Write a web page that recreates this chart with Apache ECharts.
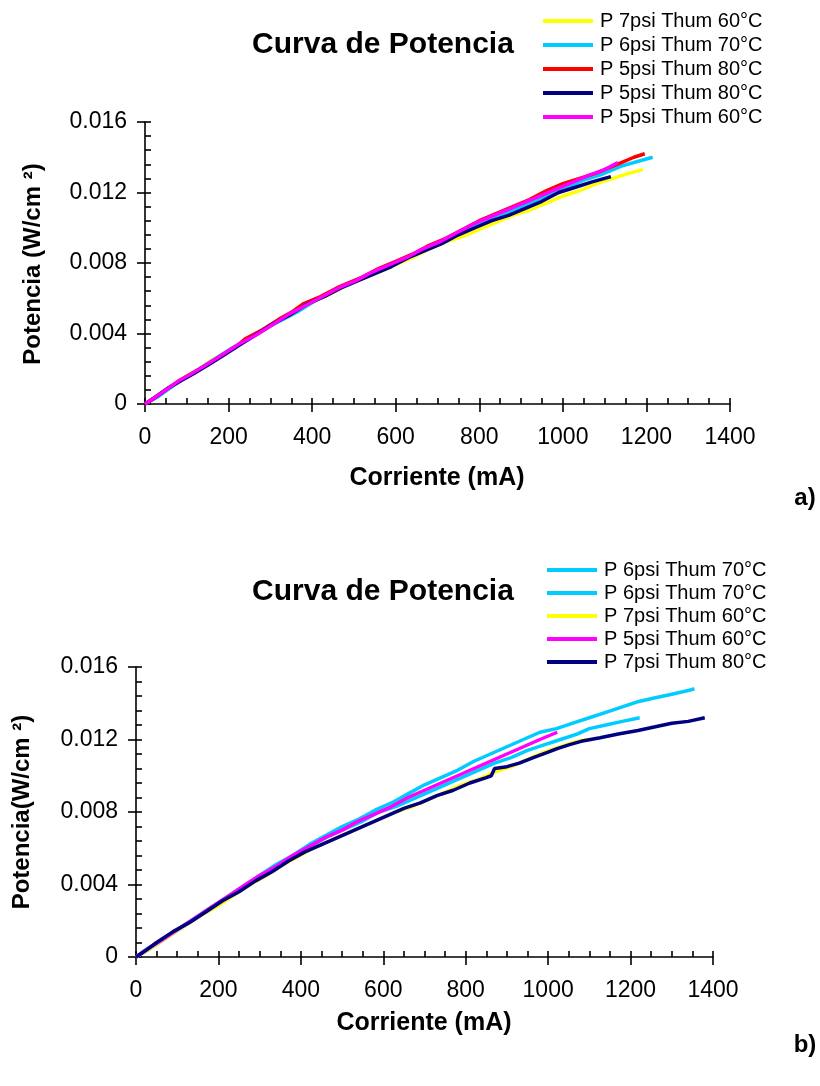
<!DOCTYPE html>
<html><head><meta charset="utf-8">
<script src="https://cdn.jsdelivr.net/npm/echarts@6/dist/echarts.min.js"></script>
<style>html,body{margin:0;padding:0;background:#fff}#c{width:820px;height:1086px}</style>
</head><body><div id="c"></div>
<script>
// ---------- DATA (current mA, power W/cm2) ----------
const xTicks = [0, 200, 400, 600, 800, 1000, 1200, 1400];
const yTicks = [0, 0.004, 0.008, 0.012, 0.016];

const legendA = ['P 7psi Thum 60°C', 'P 6psi Thum 70°C', 'P 5psi Thum 80°C', 'P 5psi Thum 80°C', 'P 5psi Thum 60°C'];
const legendB = ['P 6psi Thum 70°C', 'P 6psi Thum 70°C', 'P 7psi Thum 60°C', 'P 5psi Thum 60°C', 'P 7psi Thum 80°C'];

// chart a)
const aYellow = [[0,0],[20,0.0003],[45,0.0007],[70,0.0011],[100,0.0016],[130,0.0020],[160,0.0025],[200,0.0030],[240,0.0036],[280,0.0042],[320,0.0047],[360,0.0052],[400,0.0058],[440,0.0062],[480,0.0067],[520,0.0071],[560,0.0075],[600,0.0079],[640,0.0083],[680,0.0088],[720,0.0092],[760,0.0095],[800,0.0099],[840,0.0103],[880,0.0107],[920,0.0110],[960,0.0114],[1000,0.0118],[1040,0.0121],[1080,0.0125],[1120,0.0128],[1160,0.0131],[1191,0.0133]];
const aCyan = [[0,0],[30,0.0004],[60,0.0009],[90,0.0014],[130,0.0020],[170,0.0026],[210,0.0032],[250,0.0037],[290,0.0043],[330,0.0048],[370,0.0053],[410,0.0059],[450,0.0064],[490,0.0068],[530,0.0073],[570,0.0077],[610,0.0081],[650,0.0085],[690,0.0090],[730,0.0094],[770,0.0099],[810,0.0103],[850,0.0107],[890,0.0111],[930,0.0115],[970,0.0119],[1010,0.0123],[1050,0.0127],[1090,0.0130],[1120,0.0133],[1140,0.0135],[1170,0.0137],[1200,0.0139],[1215,0.0140]];
const aRed = [[0,0],[20,0.0003],[50,0.0008],[80,0.0013],[110,0.0017],[140,0.0021],[180,0.0027],[220,0.0033],[240,0.0037],[280,0.0042],[320,0.0048],[350,0.0052],[380,0.0057],[420,0.0061],[460,0.0066],[490,0.0069],[520,0.0072],[560,0.0077],[600,0.0081],[640,0.0085],[680,0.0090],[720,0.0094],[760,0.0099],[800,0.0104],[840,0.0108],[880,0.0112],[920,0.0116],[960,0.0121],[1000,0.0125],[1040,0.0128],[1080,0.0131],[1110,0.0134],[1140,0.0137],[1170,0.0140],[1196,0.0142]];
const aNavy = [[0,0],[25,0.0004],[55,0.0009],[85,0.0013],[115,0.0017],[150,0.0022],[190,0.0028],[230,0.0034],[270,0.0040],[310,0.0046],[350,0.0051],[390,0.0057],[430,0.0061],[470,0.0066],[510,0.0070],[550,0.0074],[590,0.0078],[630,0.0083],[670,0.0087],[710,0.0091],[750,0.0096],[790,0.0100],[830,0.0104],[870,0.0107],[910,0.0111],[950,0.0115],[990,0.0120],[1030,0.0123],[1070,0.0126],[1115,0.0129]];
const aMagenta = [[0,0],[25,0.0004],[50,0.0008],[80,0.0013],[110,0.0017],[145,0.0022],[185,0.0028],[225,0.0034],[265,0.0039],[305,0.0045],[345,0.0051],[385,0.0056],[425,0.0061],[465,0.0066],[505,0.0070],[545,0.0075],[585,0.0079],[625,0.0083],[665,0.0088],[705,0.0092],[745,0.0097],[785,0.0102],[825,0.0106],[865,0.0110],[905,0.0114],[945,0.0118],[985,0.0122],[1025,0.0126],[1065,0.0130],[1100,0.0133],[1132,0.0137]];

// chart b)
const bCyan1 = [[0,0],[30,0.0005],[60,0.0009],[100,0.0015],[140,0.0021],[180,0.0027],[220,0.0033],[260,0.0039],[300,0.0045],[340,0.0051],[380,0.0056],[420,0.0062],[460,0.0067],[500,0.0072],[540,0.0076],[580,0.0081],[620,0.0085],[660,0.0090],[700,0.0095],[740,0.0099],[780,0.0103],[820,0.0108],[860,0.0112],[900,0.0116],[940,0.0120],[980,0.0124],[1020,0.0126],[1060,0.0129],[1100,0.0132],[1140,0.0135],[1180,0.0138],[1220,0.0141],[1260,0.0143],[1300,0.0145],[1340,0.0147],[1355,0.0148]];
const bCyan2 = [[0,0],[30,0.0004],[70,0.0010],[110,0.0016],[150,0.0022],[190,0.0028],[230,0.0034],[270,0.0040],[310,0.0046],[350,0.0051],[390,0.0057],[430,0.0062],[470,0.0067],[510,0.0071],[550,0.0075],[590,0.0080],[630,0.0083],[670,0.0087],[710,0.0091],[750,0.0095],[790,0.0099],[830,0.0103],[870,0.0107],[910,0.0110],[950,0.0114],[990,0.0117],[1030,0.0120],[1070,0.0123],[1100,0.0126],[1140,0.0128],[1180,0.0130],[1222,0.0132]];
const bYellow = [[0,0],[30,0.0004],[70,0.0010],[110,0.0016],[150,0.0022],[190,0.0027],[230,0.0033],[270,0.0039],[310,0.0044],[350,0.0050],[390,0.0055],[430,0.0060],[470,0.0064],[510,0.0068],[550,0.0072],[590,0.0076],[630,0.0080],[670,0.0083],[710,0.0087],[750,0.0091],[790,0.0095],[830,0.0098],[870,0.0102],[910,0.0105],[950,0.0109],[990,0.0113],[1030,0.0116],[1070,0.0119],[1100,0.0120]];
const bMagenta = [[0,0],[25,0.0004],[60,0.0009],[100,0.0015],[140,0.0021],[180,0.0027],[220,0.0033],[260,0.0039],[300,0.0045],[340,0.0050],[380,0.0056],[420,0.0061],[460,0.0066],[500,0.0070],[540,0.0075],[580,0.0079],[620,0.0083],[660,0.0088],[700,0.0092],[740,0.0096],[780,0.0100],[820,0.0104],[860,0.0108],[900,0.0112],[940,0.0116],[980,0.0120],[1022,0.0124]];
const bNavy = [[0,0],[20,0.0003],[50,0.0008],[90,0.0014],[130,0.0019],[170,0.0025],[210,0.0031],[250,0.0036],[290,0.0042],[330,0.0047],[370,0.0053],[410,0.0058],[450,0.0062],[490,0.0066],[530,0.0070],[570,0.0074],[610,0.0078],[650,0.0082],[690,0.0085],[730,0.0089],[770,0.0092],[810,0.0096],[850,0.0099],[862,0.0100],[870,0.0104],[900,0.0105],[930,0.0107],[964,0.0110],[1000,0.0113],[1022,0.0115],[1050,0.0117],[1080,0.0119],[1126,0.0121],[1170,0.0123],[1218,0.0125],[1260,0.0127],[1300,0.0129],[1340,0.0130],[1380,0.0132]];

const colorsA = ['#FFFF00', '#00CCFF', '#FF0000', '#000080', '#FF00FF'];
const colorsB = ['#00CCFF', '#00CCFF', '#FFFF00', '#FF00FF', '#000080'];
const dataA = [aYellow, aCyan, aRed, aNavy, aMagenta];
const dataB = [bCyan1, bCyan2, bYellow, bMagenta, bNavy];

// ---------- CHART ----------
const FONT = '"Liberation Sans", Arial, sans-serif';
const chart = echarts.init(document.getElementById('c'), null, {renderer: 'canvas'});
const axisCol = '#000';
const xMax = xTicks[xTicks.length - 1], xInt = xTicks[1] - xTicks[0];
const yMax = yTicks[yTicks.length - 1], yInt = yTicks[1] - yTicks[0];

function majorX(g) {
  return {gridIndex: g, type: 'value', position: 'bottom', min: 0, max: xMax, interval: xInt,
    axisLine: {lineStyle: {color: axisCol, width: 1.6}},
    axisTick: {length: 8, lineStyle: {color: axisCol, width: 1.6}},
    axisLabel: {margin: 22, fontSize: 23, color: '#000', fontFamily: FONT, formatter: v => String(v)},
    splitLine: {show: false}};
}
function minorX(g) {
  return {gridIndex: g, type: 'value', position: 'bottom', min: 0, max: xMax, interval: xInt / 4,
    axisLine: {show: false}, axisTick: {inside: true, length: 6, lineStyle: {color: axisCol, width: 1.6}},
    axisLabel: {show: false}, splitLine: {show: false}};
}
function majorY(g) {
  return {gridIndex: g, type: 'value', position: 'left', min: 0, max: yMax, interval: yInt,
    axisLine: {lineStyle: {color: axisCol, width: 1.6}},
    axisTick: {length: 8, lineStyle: {color: axisCol, width: 1.6}},
    axisLabel: {margin: 18, fontSize: 23, color: '#000', fontFamily: FONT,
      formatter: v => v === 0 ? '0' : v.toFixed(3)},
    splitLine: {show: false}};
}
function minorY(g) {
  return {gridIndex: g, type: 'value', position: 'left', min: 0, max: yMax, interval: yInt / 5,
    axisLine: {show: false}, axisTick: {inside: true, length: 6, lineStyle: {color: axisCol, width: 1.6}},
    axisLabel: {show: false}, splitLine: {show: false}};
}

const series = [];
dataA.forEach((d, i) => series.push({
  name: legendA[i] + '|a' + i, type: 'line', xAxisIndex: 0, yAxisIndex: 0, data: d,
  symbol: 'none', smooth: false, color: colorsA[i], lineStyle: {width: 3.5, color: colorsA[i]}
}));
dataB.forEach((d, i) => series.push({
  name: legendB[i] + '|b' + i, type: 'line', xAxisIndex: 2, yAxisIndex: 2, data: d,
  symbol: 'none', smooth: false, color: colorsB[i], lineStyle: {width: 3.5, color: colorsB[i]}
}));

function legendOf(names, tag, left, top, gap) {
  return {orient: 'vertical', left: left, top: top, padding: 0, itemWidth: 50, itemHeight: 4, itemGap: gap,
    icon: 'rect', selectedMode: false,
    data: names.map((n, i) => n + '|' + tag + i),
    formatter: n => n.split('|')[0],
    textStyle: {fontSize: 20, color: '#000', fontFamily: FONT, padding: [0, 0, 0, 2]}};
}

function txt(text, x, y, size, bold, rot) {
  return {type: 'text', x: x, y: y, rotation: rot || 0,
    style: {text: text, fill: '#000', fontSize: size, fontWeight: bold ? 'bold' : 'normal',
      fontFamily: FONT, align: 'center', verticalAlign: 'middle',
      textAlign: 'center', textVerticalAlign: 'middle'}};
}

chart.setOption({
  animation: false,
  backgroundColor: '#fff',
  grid: [
    {left: 145, top: 122, width: 585, height: 282, containLabel: false},
    {left: 136, top: 667, width: 577, height: 290, containLabel: false}
  ],
  xAxis: [majorX(0), minorX(0), majorX(1), minorX(1)],
  yAxis: [majorY(0), minorY(0), majorY(1), minorY(1)],
  legend: [legendOf(legendA, 'a', 543, 11, 4), legendOf(legendB, 'b', 547, 560, 3)],
  graphic: [
    txt('Curva de Potencia', 383, 45, 30, true),
    txt('Curva de Potencia', 383, 592, 30, true),
    txt('Corriente (mA)', 437, 478, 25, true),
    txt('Corriente (mA)', 424, 1023, 25, true),
    txt('Potencia (W/cm ²)', 33, 264, 24, true, Math.PI / 2),
    txt('Potencia(W/cm ²)', 22, 812, 24, true, Math.PI / 2),
    txt('a)', 805, 498, 24, true),
    txt('b)', 805, 1045, 24, true)
  ],
  series: series
});
</script></body></html>
